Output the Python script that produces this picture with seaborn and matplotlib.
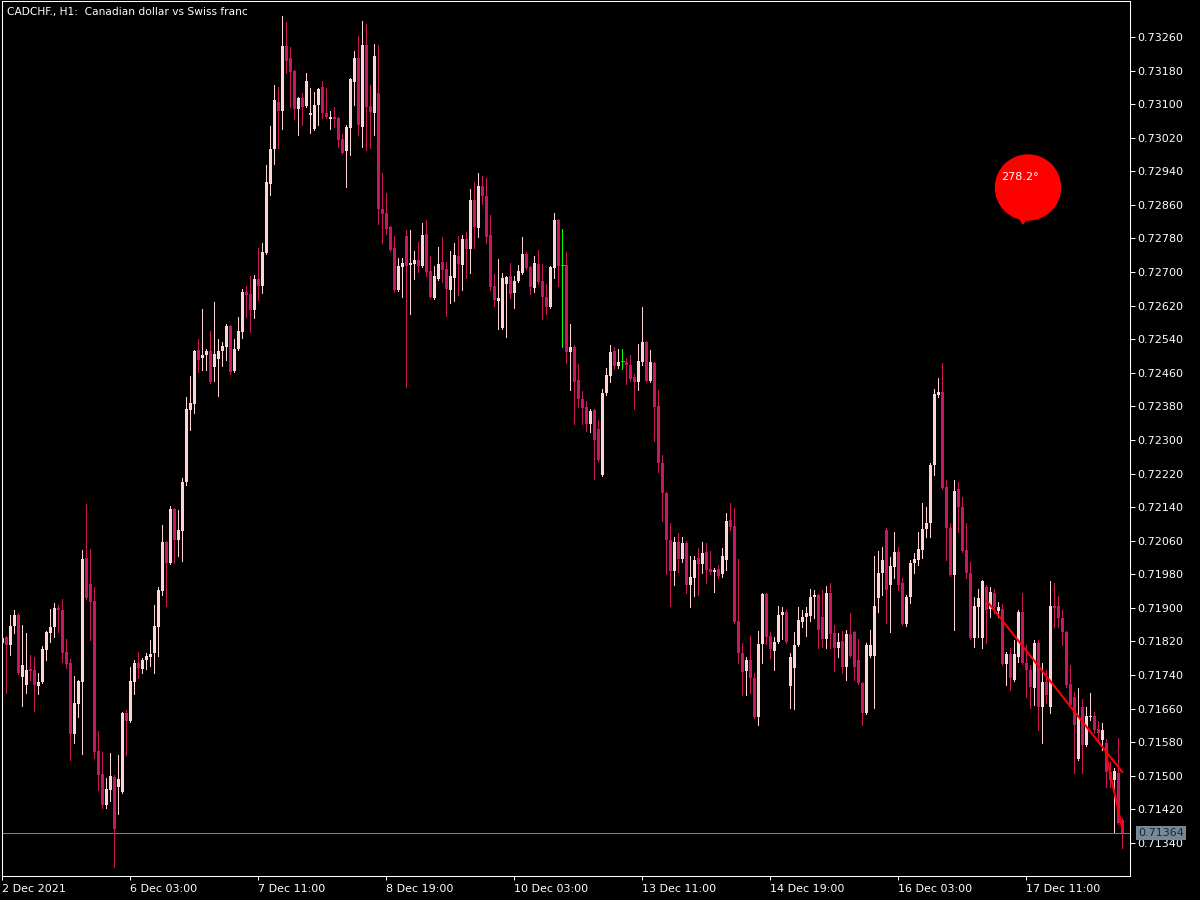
import numpy as np
import pandas as pd
import matplotlib
matplotlib.use("Agg")
import matplotlib.pyplot as plt
from matplotlib.patches import Ellipse, Polygon
import seaborn as sns

# CADCHF H1 candles, prices in points (1e-5)
opens = [
    71817, 71831, 71812, 71857, 71883, 71735, 71716, 71754, 71752, 71714,
    71724, 71800, 71841, 71855, 71900, 71895, 71795, 71769, 71600, 71671,
    71724, 72019, 71957, 71916, 71559, 71504, 71430, 71466, 71497, 71473,
    71462, 71650, 71631, 71724, 71769, 71754, 71776, 71783, 71793, 71855,
    71940, 72057, 72007, 72136, 72062, 72083, 72200, 72372, 72386, 72514,
    72495, 72502, 72512, 72474, 72493, 72512, 72521, 72571, 72464, 72517,
    72557, 72653, 72648, 72610, 72683, 72667, 72745, 72910, 72993, 73105,
    73084, 73238, 73210, 73179, 73088, 73115, 73096, 73074, 73041, 73098,
    73141, 73079, 73065, 73069, 73067, 73017, 72988, 73043, 73153, 73210,
    73046, 73241, 73096, 73079, 73127, 72850, 72841, 72807, 72757, 72657,
    72712, 72786, 72717, 72719, 72729, 72714, 72791, 72703, 72638, 72683,
    72724, 72707, 72657, 72686, 72738, 72717, 72779, 72755, 72872, 72805,
    72905, 72881, 72788, 72667, 72631, 72567, 72672, 72691, 72650, 72679,
    72698, 72743, 72712, 72662, 72719, 72679, 72641, 72617, 72710, 72824,
    72717, 72717, 72510, 72521, 72443, 72398, 72379, 72338, 72371, 72326,
    72217, 72412, 72452, 72512, 72476, 72488, 72486, 72479, 72450, 72438,
    72486, 72533, 72441, 72483, 72381, 72245, 72174, 72062, 71988, 72057,
    72017, 72055, 71955, 71971, 72019, 72005, 72033, 71993, 71986, 71993,
    71981, 72014, 72110, 72095, 71869, 71793, 71750, 71776, 71733, 71640,
    71814, 71933, 71833, 71798, 71819, 71883, 71890, 71714, 71757, 71812,
    71867, 71879, 71881, 71926, 71931, 71879, 71826, 71936, 71841, 71805,
    71821, 71759, 71838, 71843, 71776, 71721, 71650, 71786, 71786, 71924,
    71983, 72086, 71955, 71997, 72033, 71959, 71862, 71926, 72007, 72014,
    72038, 72088, 72102, 72240, 72407, 72414, 72188, 72090, 71978, 72183,
    72141, 72038, 71983, 71829, 71902, 71829, 71950, 71898, 71936, 71893,
    71898, 71767, 71790, 71728, 71783, 71890, 71769, 71752, 71709, 71817,
    71664, 71724, 71664, 71905, 71905, 71876, 71843, 71719, 71688, 71540,
    71664, 71574, 71640, 71643, 71612, 71585, 71578, 71509, 71490, 71507,
    71395,
]
highs = [
    71834, 71834, 71883, 71895, 71888, 71859, 71841, 71788, 71783, 71745,
    71810, 71845, 71898, 71912, 71907, 71922, 71826, 71778, 71738, 71728,
    72038, 72148, 72040, 71950, 71607, 71557, 71495, 71555, 71502, 71550,
    71652, 71657, 71759, 71776, 71795, 71781, 71793, 71824, 71907, 71950,
    72098, 72060, 72143, 72138, 72133, 72210, 72402, 72452, 72514, 72541,
    72612, 72517, 72560, 72629, 72541, 72533, 72576, 72574, 72541, 72593,
    72660, 72667, 72691, 72693, 72757, 72769, 72955, 73048, 73146, 73141,
    73310, 73296, 73236, 73181, 73117, 73127, 73174, 73138, 73129, 73138,
    73155, 73138, 73084, 73093, 73069, 73029, 73050, 73162, 73227, 73262,
    73298, 73291, 73146, 73243, 73241, 72936, 72888, 72810, 72786, 72733,
    72733, 72800, 72800, 72750, 72772, 72817, 72824, 72738, 72714, 72760,
    72783, 72724, 72750, 72769, 72786, 72788, 72795, 72898, 72915, 72936,
    72929, 72924, 72836, 72695, 72731, 72698, 72691, 72722, 72691, 72717,
    72783, 72748, 72714, 72738, 72753, 72719, 72672, 72714, 72841, 72826,
    72803, 72748, 72576, 72526, 72481, 72417, 72393, 72374, 72374, 72348,
    72422, 72471, 72526, 72521, 72517, 72517, 72495, 72502, 72457, 72529,
    72617, 72536, 72514, 72486, 72419, 72264, 72176, 72102, 72069, 72079,
    72069, 72060, 72024, 72024, 72043, 72057, 72055, 72036, 71995, 72002,
    72043, 72126, 72150, 72138, 72017, 71817, 71783, 71833, 71745, 71845,
    71936, 71936, 71843, 71831, 71905, 71902, 71895, 71793, 71843, 71902,
    71895, 71902, 71945, 71943, 71933, 71943, 71952, 71959, 71859, 71841,
    71845, 71848, 71888, 71845, 71826, 71724, 71817, 71848, 72024, 72036,
    72045, 72090, 72021, 72081, 72045, 71971, 71931, 72014, 72031, 72081,
    72150, 72141, 72245, 72422, 72448, 72483, 72205, 72102, 72205, 72200,
    72164, 72102, 72009, 71926, 71945, 71967, 71955, 71950, 71945, 71914,
    71910, 71795, 71805, 71824, 71895, 71936, 71812, 71764, 71824, 71824,
    71769, 71752, 71964, 71959, 71929, 71895, 71845, 71764, 71700, 71709,
    71683, 71664, 71698, 71652, 71631, 71626, 71588, 71533, 71519, 71590,
    71400,
]
lows = [
    71812, 71698, 71788, 71841, 71743, 71667, 71698, 71728, 71655, 71695,
    71720, 71776, 71819, 71831, 71843, 71771, 71757, 71538, 71578, 71640,
    71552, 71922, 71824, 71543, 71466, 71423, 71423, 71440, 71283, 71409,
    71460, 71550, 71629, 71695, 71733, 71745, 71754, 71762, 71745, 71786,
    71931, 71905, 72005, 72007, 72024, 72012, 72193, 72324, 72364, 72462,
    72467, 72467, 72436, 72441, 72405, 72476, 72491, 72457, 72462, 72515,
    72543, 72593, 72557, 72591, 72633, 72650, 72743, 72884, 72957, 72996,
    73041, 73174, 73093, 73065, 73026, 73050, 73093, 73031, 73038, 73050,
    73067, 73067, 73041, 73045, 72998, 72981, 72903, 72979, 73098, 73026,
    72998, 72991, 72996, 73026, 72814, 72769, 72791, 72750, 72653, 72655,
    72641, 72426, 72600, 72683, 72700, 72712, 72691, 72639, 72636, 72681,
    72676, 72596, 72626, 72631, 72645, 72657, 72686, 72698, 72757, 72783,
    72862, 72769, 72657, 72619, 72564, 72564, 72545, 72638, 72614, 72676,
    72695, 72707, 72648, 72653, 72672, 72588, 72600, 72614, 72686, 72667,
    72521, 72483, 72419, 72338, 72379, 72338, 72321, 72319, 72207, 72250,
    72214, 72407, 72438, 72469, 72471, 72469, 72433, 72441, 72374, 72419,
    72479, 72438, 72438, 72298, 72224, 72107, 71981, 71905, 71955, 71986,
    72009, 71936, 71902, 71929, 71931, 71983, 71959, 71981, 71938, 71971,
    71974, 71990, 72086, 71864, 71769, 71693, 71693, 71698, 71638, 71621,
    71769, 71814, 71781, 71752, 71817, 71826, 71817, 71662, 71659, 71810,
    71855, 71833, 71869, 71876, 71805, 71807, 71805, 71805, 71750, 71783,
    71745, 71728, 71783, 71728, 71719, 71621, 71648, 71783, 71662, 71890,
    71931, 71864, 71843, 71971, 71943, 71859, 71857, 71912, 71983, 72002,
    72019, 72069, 72069, 72217, 72402, 72183, 72014, 71976, 71848, 72081,
    72033, 71971, 71826, 71807, 71831, 71805, 71817, 71879, 71888, 71879,
    71764, 71716, 71705, 71726, 71771, 71767, 71688, 71662, 71669, 71609,
    71578, 71674, 71650, 71855, 71855, 71812, 71712, 71664, 71507, 71538,
    71507, 71571, 71633, 71602, 71581, 71562, 71473, 71473, 71366, 71385,
    71328,
]
closes = [
    71829, 71812, 71857, 71883, 71745, 71764, 71752, 71750, 71716, 71724,
    71802, 71843, 71855, 71900, 71895, 71793, 71767, 71600, 71674, 71726,
    72017, 71924, 71914, 71557, 71502, 71430, 71469, 71500, 71373, 71492,
    71650, 71631, 71726, 71769, 71757, 71776, 71786, 71790, 71857, 71943,
    72057, 72007, 72136, 72062, 72086, 72200, 72374, 72388, 72512, 72491,
    72502, 72512, 72438, 72505, 72512, 72524, 72571, 72462, 72517, 72560,
    72653, 72645, 72610, 72683, 72667, 72748, 72915, 72993, 73110, 73084,
    73238, 73203, 73177, 73088, 73115, 73093, 73155, 73079, 73098, 73136,
    73079, 73069, 73069, 73065, 73015, 72984, 73046, 73160, 73210, 73050,
    73241, 73093, 73081, 73215, 72850, 72838, 72803, 72753, 72657, 72714,
    72721, 72714, 72721, 72729, 72714, 72788, 72700, 72641, 72691, 72719,
    72705, 72660, 72691, 72741, 72719, 72779, 72755, 72872, 72807, 72905,
    72881, 72783, 72664, 72633, 72638, 72686, 72688, 72648, 72679, 72703,
    72743, 72710, 72664, 72721, 72676, 72641, 72617, 72712, 72824, 72714,
    72717, 72510, 72521, 72438, 72398, 72376, 72338, 72369, 72300, 72252,
    72412, 72455, 72510, 72476, 72486, 72488, 72479, 72445, 72438, 72488,
    72533, 72441, 72486, 72379, 72245, 72174, 72062, 71988, 72057, 72017,
    72055, 71955, 71974, 72014, 72005, 72031, 71990, 71986, 71990, 71976,
    72024, 72107, 72093, 71867, 71793, 71748, 71776, 71733, 71640, 71814,
    71933, 71831, 71802, 71819, 71883, 71890, 71819, 71783, 71812, 71871,
    71879, 71888, 71926, 71931, 71848, 71826, 71936, 71838, 71805, 71819,
    71759, 71838, 71786, 71759, 71721, 71650, 71812, 71812, 71905, 71983,
    72014, 71943, 71999, 72033, 71955, 71862, 71926, 72007, 72017, 72040,
    72088, 72102, 72240, 72410, 72414, 72186, 72090, 71978, 72179, 72141,
    72036, 71983, 71829, 71905, 71924, 71964, 71895, 71938, 71902, 71902,
    71767, 71790, 71733, 71790, 71890, 71769, 71752, 71712, 71817, 71664,
    71724, 71693, 71905, 71900, 71876, 71843, 71716, 71669, 71621, 71640,
    71574, 71643, 71643, 71609, 71602, 71609, 71509, 71490, 71512, 71388,
    71364,
]

# time axis labels (every 32 bars) and price scale
tick_bars = [0, 32, 64, 96, 128, 160, 192, 224, 256]
tick_labels = ["2 Dec 2021", "6 Dec 03:00", "7 Dec 11:00", "8 Dec 19:00",
               "10 Dec 03:00", "13 Dec 11:00", "14 Dec 19:00", "16 Dec 03:00",
               "17 Dec 11:00"]
price_ticks = [0.71340, 0.71420, 0.71500, 0.71580, 0.71660, 0.71740, 0.71820,
               0.71900, 0.71980, 0.72060, 0.72140, 0.72220, 0.72300, 0.72380,
               0.72460, 0.72540, 0.72620, 0.72700, 0.72780, 0.72860, 0.72940,
               0.73020, 0.73100, 0.73180, 0.73260]
last_price = 0.71364

# trend line objects (bar index, price)
trend1_bars = [246.1, 280.0]
trend1_prices = [0.71917, 0.71509]
trend2_bars = [275.85, 280.0]
trend2_prices = [0.71555, 0.71374]
angle_text = "278.2°"

BULL = "#ffd4d4"
BEAR = "#c8175d"
DOJI = "#00ff00"

sns.set_theme(style="dark", rc={
    "figure.facecolor": "black", "axes.facecolor": "black",
    "axes.edgecolor": "white", "axes.grid": False,
})
plt.rcParams["font.family"] = ["DejaVu Sans"]

df = pd.DataFrame({"open": opens, "high": highs, "low": lows, "close": closes}) / 1e5
df["bar"] = np.arange(len(df))

fig = plt.figure(figsize=(12, 9), dpi=100)
ax = fig.add_axes([2 / 1200, 24 / 900, 1128 / 1200, 875 / 900])

ax.axhline(last_price, color="#778899", lw=0.7, zorder=1)

# wicks 1px, bodies 3px of the 4px bar step
for mask, col in [(df.close > df.open, BULL), (df.close < df.open, BEAR)]:
    d = df[mask]
    ax.vlines(d.bar, d.low, d.high, color=col, lw=0.7, antialiased=False,
              snap=True, zorder=2)
    body = (d.close - d.open).abs().clip(lower=0.000024)
    ax.bar(d.bar, body, bottom=d[["open", "close"]].min(axis=1), width=0.75,
           color=col, linewidth=0, antialiased=False, zorder=3)
d = df[df.close == df.open]
ax.vlines(d.bar, d.low, d.high, color=DOJI, lw=0.7, antialiased=False,
          snap=True, zorder=2)
ax.hlines(d.open, d.bar - 0.375, d.bar + 0.375, color=DOJI, lw=0.7,
          antialiased=False, zorder=2)

sns.lineplot(x=trend1_bars, y=trend1_prices, color="#ff0000", lw=1.5,
             sort=False, estimator=None, ax=ax, zorder=4)
sns.lineplot(x=trend2_bars, y=trend2_prices, color="#ff0000", lw=1.5,
             sort=False, estimator=None, ax=ax, zorder=4)

ax.set_xlim(-0.075, 281.925)
ax.set_ylim(0.712614, 0.733457)
ax.set_xlabel("")
ax.set_ylabel("")

ax.set_xticks(tick_bars)
ax.set_xticklabels(tick_labels, ha="left")
ax.set_yticks(price_ticks)
ax.set_yticklabels([f"{p:.5f}" for p in price_ticks])
ax.tick_params(axis="x", colors="white", labelsize=8, direction="out",
               length=3, width=0.75, pad=2.5, bottom=True)
ax.tick_params(axis="y", colors="white", labelsize=8, direction="out",
               length=3.5, width=0.75, pad=1.5, left=False, labelleft=False,
               right=True, labelright=True)
for s in ax.spines.values():
    s.set_visible(True)
    s.set_color("white")
    s.set_linewidth(0.75)

# last price tag on the scale
ax.annotate(f"{last_price:.5f}", xy=(1, last_price),
            xycoords=("axes fraction", "data"), xytext=(6, 0),
            textcoords="offset points", ha="left", va="center", fontsize=8,
            color="#1c2530", annotation_clip=False, zorder=6,
            bbox=dict(boxstyle="square,pad=0.2", fc="#778899", ec="none"))

# title
fig.text(7 / 1200, 1 - 11.5 / 900, "CADCHF., H1:  Canadian dollar vs Swiss franc",
         color="white", fontsize=7.7, ha="left", va="center")

# angle balloon
fig.add_artist(Ellipse((1028 / 1200, 1 - 187.5 / 900), 65 / 1200, 65 / 900,
                       transform=fig.transFigure, color="#ff0000", zorder=5))
fig.add_artist(Polygon([(1018 / 1200, 1 - 216 / 900), (1028 / 1200, 1 - 216 / 900),
                        (1023 / 1200, 1 - 224 / 900)],
                       transform=fig.transFigure, color="#ff0000", zorder=5))
fig.text(1001 / 1200, 1 - 177 / 900, angle_text, color="white", fontsize=8,
         ha="left", va="center", zorder=6)

fig.savefig("out.png", dpi=100, facecolor="black")
